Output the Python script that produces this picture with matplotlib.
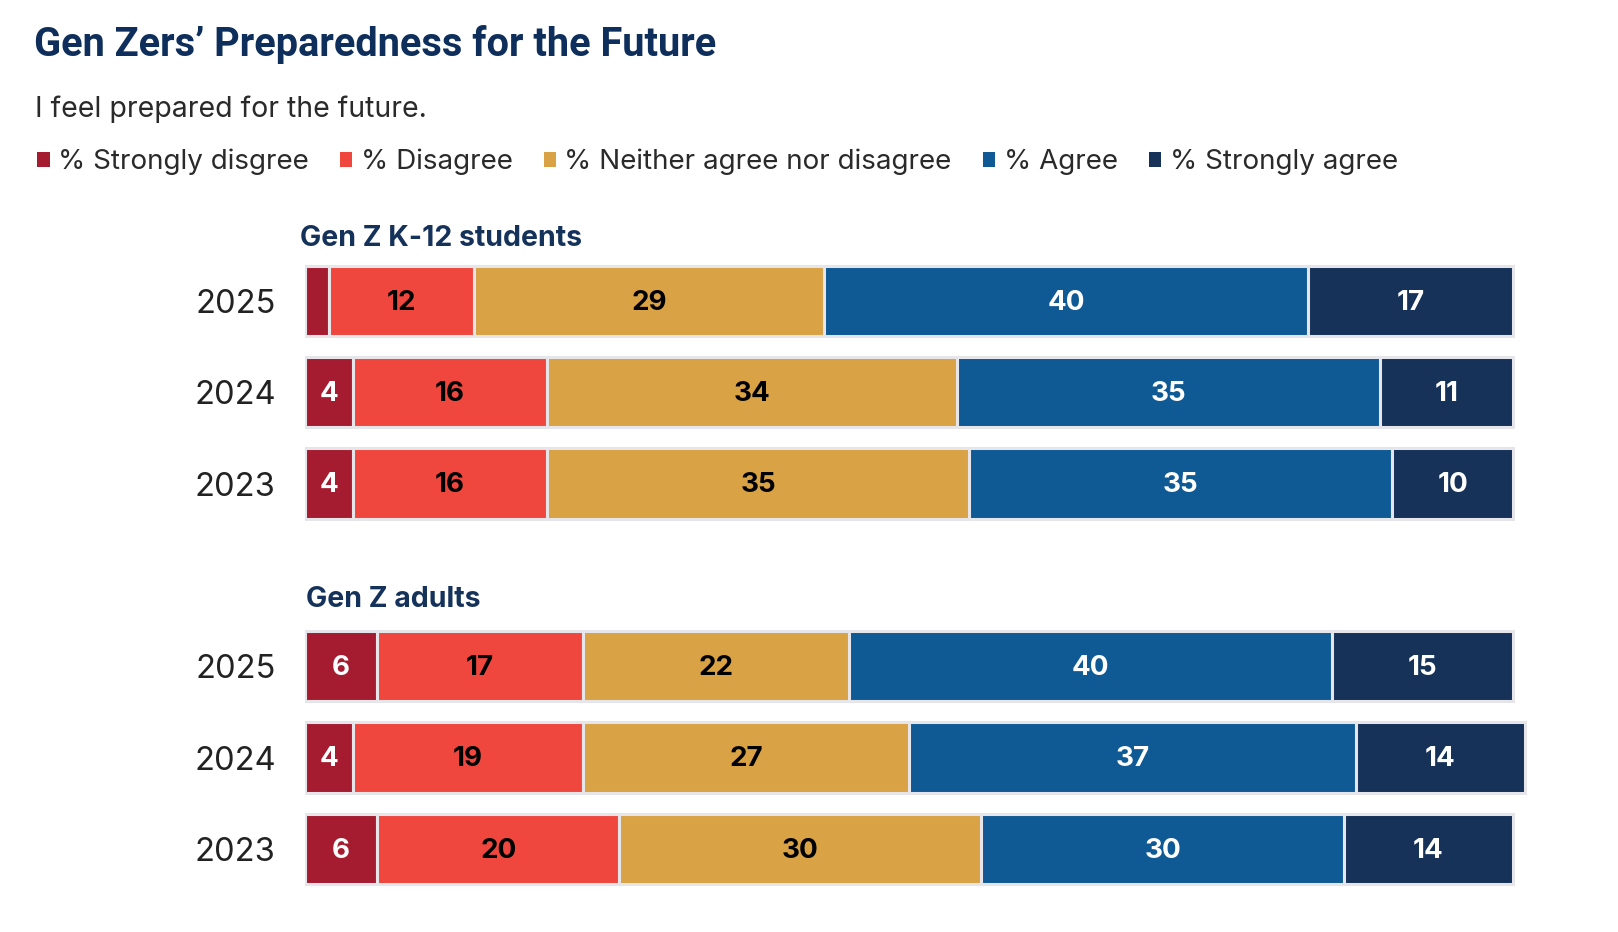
import matplotlib
matplotlib.use("Agg")
import matplotlib.pyplot as plt
from matplotlib.patches import Patch
import numpy as np

# ---- data ----
group_names = ["Gen Z K-12 students", "Gen Z adults"]
years = ["2025", "2024", "2023"]
series_names = ["% Strongly disgree", "% Disagree", "% Neither agree nor disagree",
                "% Agree", "% Strongly agree"]
strongly_disagree = [2, 4, 4, 6, 4, 6]
disagree = [12, 16, 16, 17, 19, 20]
neither = [29, 34, 35, 22, 27, 30]
agree = [40, 35, 35, 40, 37, 30]
strongly_agree = [17, 11, 10, 15, 14, 14]

colors = ["#A51C30", "#EF473E", "#D9A244", "#0F5A94", "#163259"]
label_colors = ["white", "black", "black", "white", "white"]

plt.rcParams['font.family'] = ['Inter', 'DejaVu Sans']

W, H = 1618, 932
fig = plt.figure(figsize=(W / 100, H / 100), dpi=100)

# axes geometry (pixels)
x0, x1 = 305, 1513          # x=0 and x=100
xmax = 103
px_per = (x1 - x0) / 100
row_sp = 91.3
top_c = 301
rows = np.array([0, 1, 2, 4, 5, 6])
ytop = top_c - 0.5 * row_sp
ybot = top_c + 6.5 * row_sp
ax = fig.add_axes([x0 / W, 1 - ybot / H, xmax * px_per / W, (ybot - ytop) / H])
ax.set_xlim(0, xmax)
ax.set_ylim(6.5, -0.5)

series = [strongly_disagree, disagree, neither, agree, strongly_agree]
left = np.zeros(len(rows))
for vals, col, lc in zip(series, colors, label_colors):
    vals = np.array(vals, dtype=float)
    ax.barh(rows, vals, left=left, height=0.77, color=col,
            edgecolor="#e6e6ea", linewidth=2.2)
    for r, l, v in zip(rows, left, vals):
        if v >= 3:
            ax.text(l + v / 2, r + 0.02, f"{int(v)}", ha="center", va="center",
                    color=lc, fontsize=20, fontweight="bold")
    left += vals

ax.set_yticks(rows, years * 2)
ax.tick_params(axis="y", length=0, pad=21, labelsize=23.5, labelcolor="#222222")
ax.set_xticks([])
for s in ax.spines.values():
    s.set_visible(False)

# group labels
ax.text(-0.4, rows[0] - 0.69, group_names[0], ha="left", va="center",
        fontsize=20.5, fontweight="bold", color="#15325A")
ax.text(0.1, rows[3] - 0.73, group_names[1], ha="left", va="center",
        fontsize=20.5, fontweight="bold", color="#15325A")

# title / subtitle
fig.text(34 / W, 1 - 45 / H, "Gen Zers\u2019 Preparedness for the Future", ha="left",
         va="center", fontsize=28.6, fontweight="bold", color="#0E2F5B",
         family=["Roboto", "DejaVu Sans"])
fig.text(35 / W, 1 - 109 / H, "I feel prepared for the future.", ha="left",
         va="center", fontsize=20.5, color="#2a2a2a")

handles = [Patch(facecolor=c, edgecolor="none") for c in colors]
leg = fig.legend(handles, series_names, loc="center left",
                 bbox_to_anchor=(26 / W, 1 - 162 / H), ncol=5, frameon=False,
                 fontsize=20, handlelength=0.45, handleheight=0.45,
                 handletextpad=0.3, columnspacing=1.12, borderaxespad=0)
for t in leg.get_texts():
    t.set_color("#2a2a2a")

fig.savefig("out.png", dpi=100, facecolor="white")
